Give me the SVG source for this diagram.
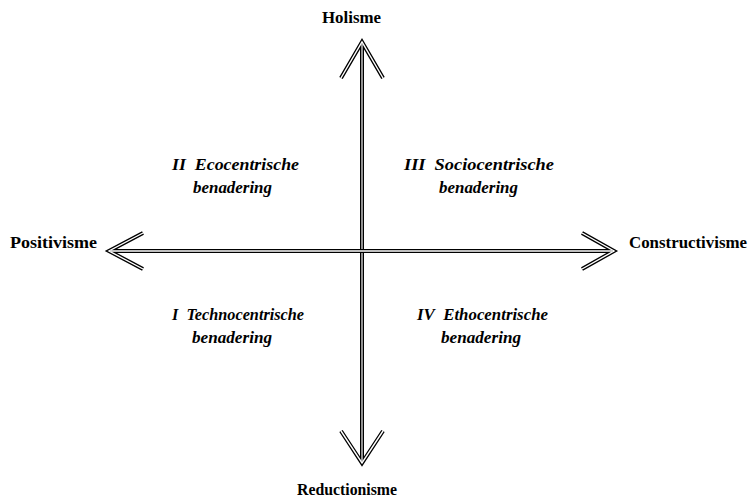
<svg xmlns="http://www.w3.org/2000/svg" xmlns:xlink="http://www.w3.org/1999/xlink" width="750" height="499" viewBox="0 0 750 499">
  <style>
    .axis { font-family: "Liberation Serif", "Times New Roman", serif; font-weight: bold; font-size: 16px; fill: #000; }
    .quad { font-family: "Liberation Serif", "Times New Roman", serif; font-weight: bold; font-style: italic; font-size: 16.5px; fill: #000; text-anchor: middle; }
    .outer { fill: none; stroke: #000; stroke-width: 4; stroke-linejoin: miter; stroke-miterlimit: 10; }
    .inner { fill: none; stroke: #fff; stroke-width: 1.4; stroke-linejoin: miter; stroke-miterlimit: 10; }
    .innerv { fill: none; stroke: #d0d0d0; stroke-width: 1.4; }
  </style>
  <defs>
    <path id="vshaft" d="M362,44 L362,461"/>
    <path id="vheadTop" d="M341,78 L362,42 L383,78"/>
    <path id="vheadBot" d="M341,431 L362,463 L383,431"/>
    <path id="hshaft" d="M111,251 L612,251"/>
    <path id="hheadL" d="M143,233 L109,251 L143,269"/>
    <path id="hheadR" d="M582,233 L614,251 L582,269"/>
  </defs>
  <rect width="750" height="499" fill="#fff"/>
  <g id="connectors">
    <g id="axis-vertical">
      <use xlink:href="#vshaft" class="outer"/>
      <use xlink:href="#vheadTop" class="outer"/>
      <use xlink:href="#vheadBot" class="outer"/>
      <use xlink:href="#vshaft" class="innerv"/>
      <use xlink:href="#vheadTop" class="inner"/>
      <use xlink:href="#vheadBot" class="inner"/>
    </g>
    <g id="axis-horizontal">
      <use xlink:href="#hshaft" class="outer"/>
      <use xlink:href="#hheadL" class="outer"/>
      <use xlink:href="#hheadR" class="outer"/>
      <use xlink:href="#hshaft" class="inner"/>
      <use xlink:href="#hheadL" class="inner"/>
      <use xlink:href="#hheadR" class="inner"/>
    </g>
  </g>
  <g id="holisme"><text class="axis" x="322" y="23" textLength="59" lengthAdjust="spacingAndGlyphs">Holisme</text></g>
  <g id="reductionisme"><text class="axis" x="297" y="495" textLength="100" lengthAdjust="spacingAndGlyphs">Reductionisme</text></g>
  <g id="positivisme"><text class="axis" x="10" y="248" textLength="87" lengthAdjust="spacingAndGlyphs">Positivisme</text></g>
  <g id="constructivisme"><text class="axis" x="629" y="248" textLength="118" lengthAdjust="spacingAndGlyphs">Constructivisme</text></g>
  <g id="q2">
    <text class="quad" x="235.5" y="170" textLength="127" lengthAdjust="spacingAndGlyphs">II&#160; Ecocentrische</text>
    <text class="quad" x="232.5" y="193" textLength="79" lengthAdjust="spacingAndGlyphs">benadering</text>
  </g>
  <g id="q3">
    <text class="quad" x="479" y="170" textLength="150" lengthAdjust="spacingAndGlyphs">III&#160; Sociocentrische</text>
    <text class="quad" x="478.5" y="193" textLength="79" lengthAdjust="spacingAndGlyphs">benadering</text>
  </g>
  <g id="q1">
    <text class="quad" x="238" y="320" textLength="132" lengthAdjust="spacingAndGlyphs">I&#160; Technocentrische</text>
    <text class="quad" x="232" y="343" textLength="80" lengthAdjust="spacingAndGlyphs">benadering</text>
  </g>
  <g id="q4">
    <text class="quad" x="482.5" y="320" textLength="131" lengthAdjust="spacingAndGlyphs">IV&#160; Ethocentrische</text>
    <text class="quad" x="481" y="343" textLength="80" lengthAdjust="spacingAndGlyphs">benadering</text>
  </g>
</svg>
